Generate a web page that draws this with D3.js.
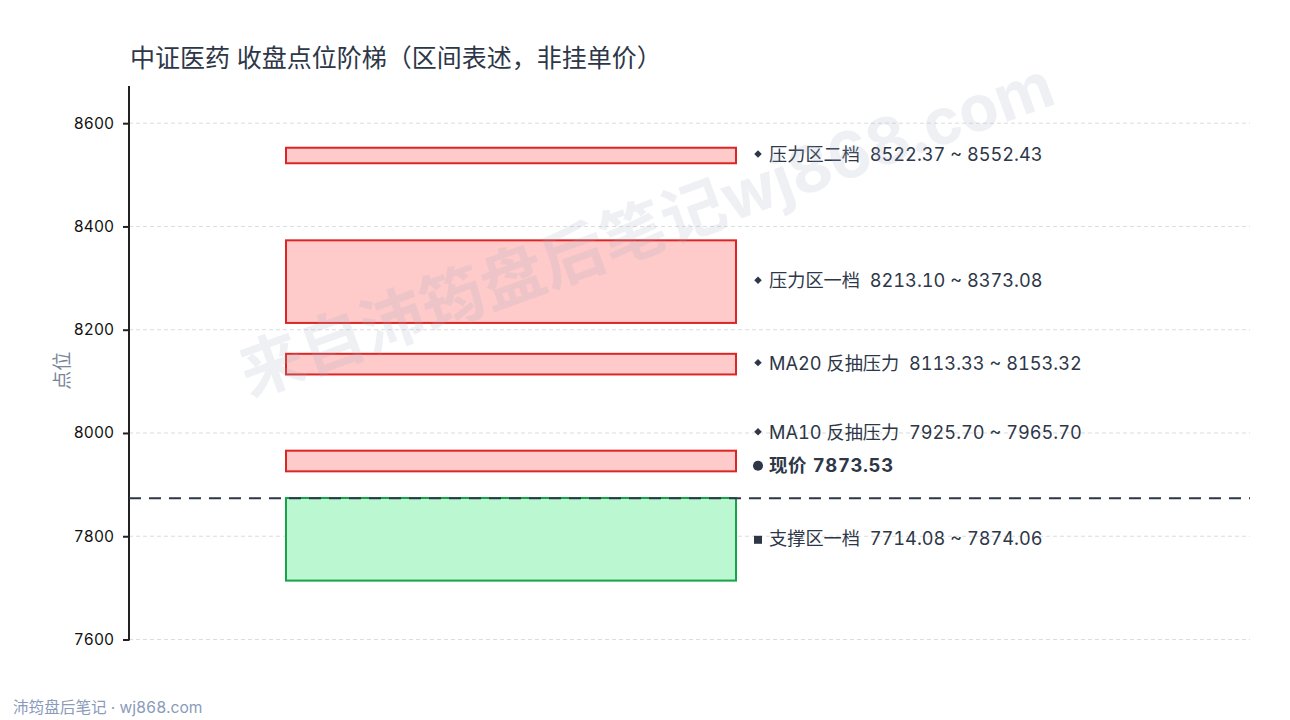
<!DOCTYPE html>
<html><head><meta charset="utf-8">
<script src="https://cdn.jsdelivr.net/npm/d3@7"></script>
<style>
html,body{margin:0;padding:0;background:#fff;}
svg{display:block;font-family:Inter,"Noto Sans CJK SC",sans-serif;}
text{white-space:pre;font-variant-numeric:tabular-nums;}
</style></head>
<body>
<svg id="chart" width="1290" height="720"></svg>
<script>
const titleText = "中证医药 收盘点位阶梯（区间表述，非挂单价）";
const yLabel = "点位";
const zoneNames = ["压力区二档", "压力区一档", "MA20 反抽压力", "MA10 反抽压力", "支撑区一档"];
const zoneLow  = [8522.37, 8213.10, 8113.33, 7925.70, 7714.08];
const zoneHigh = [8552.43, 8373.08, 8153.32, 7965.70, 7874.06];
const zoneType = ["resist", "resist", "resist", "resist", "support"];
const priceName = "现价";
const priceValue = 7873.53;
const yTicks = [7600, 7800, 8000, 8200, 8400, 8600];
const yDomain = [7600, 8672];
const footerText = "沛筠盘后笔记 · wj868.com";
const watermarkText = "来自沛筠盘后笔记wj868.com";

const svg = d3.select("#chart");
const m = {left: 129, right: 1250, top: 86, bottom: 639.5};
const y = d3.scaleLinear().domain(yDomain).range([m.bottom, m.top]);
const bx0 = 286, bx1 = 736;
const dark = "#2d3748";

// title
svg.append("text").attr("x", 130).attr("y", 67)
  .attr("font-size", 25).attr("fill", dark).text(titleText);

// grid
svg.append("g").selectAll("line").data(yTicks).join("line")
  .attr("x1", m.left).attr("x2", m.right)
  .attr("y1", d => y(d)).attr("y2", d => y(d))
  .attr("stroke", "#dcdcdc").attr("stroke-width", 1).attr("stroke-dasharray", "4,3");

// axis
const ax = svg.append("g").attr("transform", `translate(${m.left},0)`)
  .call(d3.axisLeft(y).tickValues(yTicks).tickSize(6).tickPadding(9).tickFormat(d3.format("d")));
ax.select(".domain").attr("stroke", "#222").attr("stroke-width", 2).attr("d", `M-0,${m.top}V${m.bottom+1}`);
ax.selectAll(".tick line").attr("stroke", "#222").attr("stroke-width", 2);
ax.selectAll(".tick text").attr("font-size", 15.5).attr("fill", "#111")
  .attr("font-family", "Inter,sans-serif");

svg.append("text").attr("transform", `translate(62,${(m.top+m.bottom)/2+8}) rotate(-90)`)
  .attr("text-anchor", "middle").attr("dominant-baseline", "central")
  .attr("font-size", 19).attr("fill", "#7a8598").text(yLabel);

// zones
const zones = zoneNames.map((n, i) => ({name: n, lo: zoneLow[i], hi: zoneHigh[i], type: zoneType[i]}));
svg.append("g").selectAll("rect").data(zones).join("rect")
  .attr("x", bx0).attr("width", bx1 - bx0)
  .attr("y", d => y(d.hi)).attr("height", d => y(d.lo) - y(d.hi))
  .attr("fill", d => d.type === "resist" ? "#fecaca" : "#bbf7d0")
  .attr("stroke", d => d.type === "resist" ? "#dc2626" : "#16a34a")
  .attr("stroke-width", 2);

// price line
svg.append("line").attr("x1", m.left).attr("x2", m.right)
  .attr("y1", y(priceValue)).attr("y2", y(priceValue))
  .attr("stroke", dark).attr("stroke-width", 2.2).attr("stroke-dasharray", "12,8");

// labels with simple collision avoidance
const labels = zones.map(d => ({
  text: `${d.name}  ${d.lo.toFixed(2)} ~ ${d.hi.toFixed(2)}`,
  y: y((d.lo + d.hi) / 2), kind: d.type === "resist" ? "diamond" : "square", bold: false
}));
labels.push({text: `${priceName} ${priceValue.toFixed(2)}`, y: y(priceValue) - 32, kind: "circle", bold: true});
labels.sort((a, b) => b.y - a.y);
const gap = 33;
for (let i = 1; i < labels.length; i++) {
  labels[i].y = Math.min(labels[i].y, labels[i-1].y - gap);
}
const lg = svg.append("g");
labels.forEach(l => {
  const ly = l.y - 1.5;
  let p;
  if (l.kind === "diamond") {
    p = lg.append("path").attr("d", d3.symbol().type(d3.symbolSquare).size(28)())
      .attr("transform", `translate(758,${ly}) rotate(45)`);
  } else if (l.kind === "square") {
    p = lg.append("path").attr("d", d3.symbol().type(d3.symbolSquare).size(64)())
      .attr("transform", `translate(758,${ly + 2})`);
  } else {
    p = lg.append("path").attr("d", d3.symbol().type(d3.symbolCircle).size(80)())
      .attr("transform", `translate(758,${ly + 1})`);
  }
  p.attr("fill", dark);
  lg.append("text").attr("x", 769).attr("y", ly).attr("dominant-baseline", "central")
    .attr("font-size", l.bold ? 18.5 : 18.2).attr("font-weight", l.bold ? "bold" : "normal")
    .attr("letter-spacing", l.bold ? 0.6 : 0)
    .attr("fill", dark).text(l.text);
});

// watermark (top layer)
svg.append("text").attr("transform", "translate(646,228) rotate(-20)")
  .attr("text-anchor", "middle").attr("dominant-baseline", "central")
  .attr("font-size", 64).attr("font-weight", "bold").attr("fill", "#a0aec0").attr("fill-opacity", 0.18)
  .text(watermarkText);

// footer
svg.append("text").attr("x", 13).attr("y", 713).attr("font-size", 15.6).attr("fill", "#8b9bbb").text(footerText);
</script>
</body></html>
